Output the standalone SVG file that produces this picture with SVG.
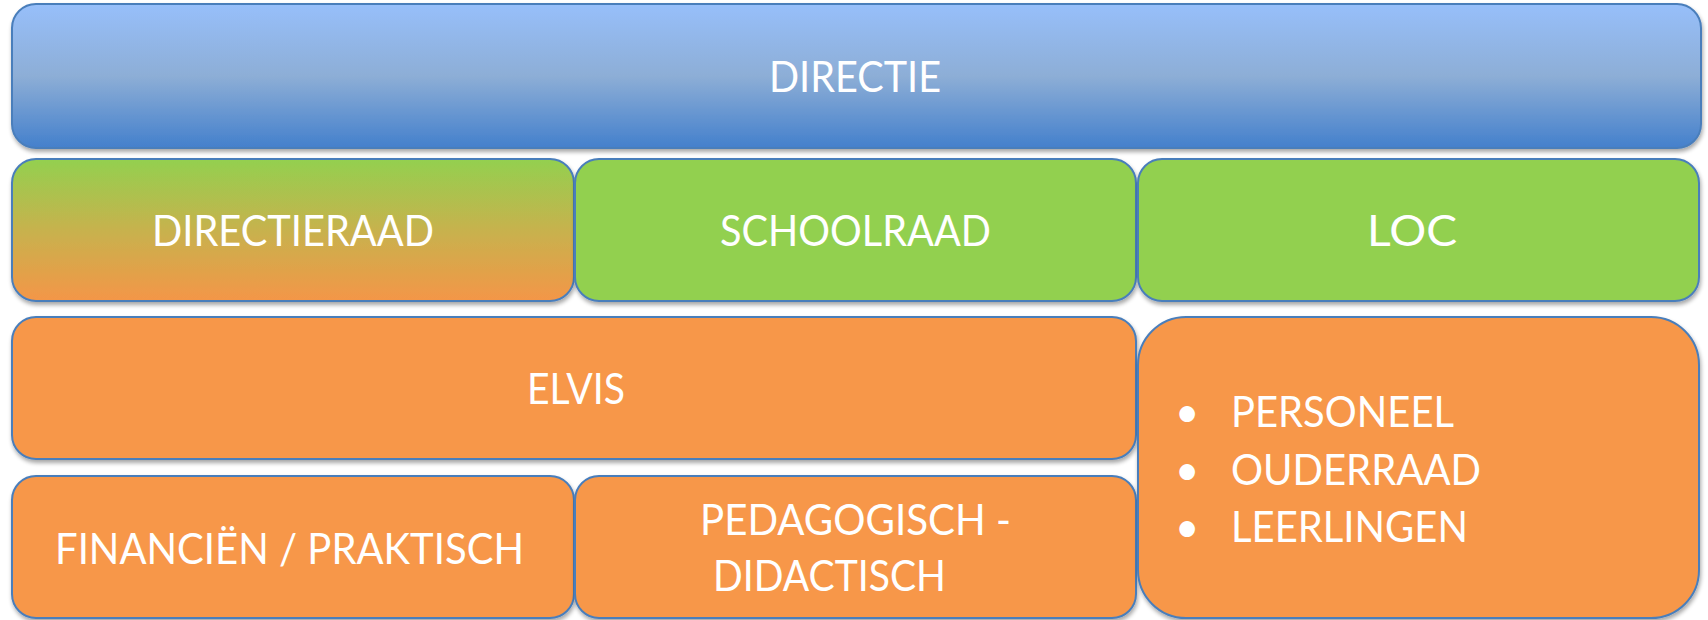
<svg xmlns="http://www.w3.org/2000/svg" width="1708" height="620" viewBox="0 0 1708 620">
<defs>
<linearGradient id="gBlue" x1="0" y1="0" x2="0" y2="1">
<stop offset="0" stop-color="#97BFFA"/>
<stop offset="0.5" stop-color="#8DAED6"/>
<stop offset="1" stop-color="#4480CC"/>
</linearGradient>
<linearGradient id="gMix" x1="0" y1="0" x2="0" y2="1">
<stop offset="0" stop-color="#93D04F"/>
<stop offset="0.5" stop-color="#C7B24E"/>
<stop offset="1" stop-color="#F49647"/>
</linearGradient>
<filter id="sh" x="-5%" y="-10%" width="110%" height="130%">
<feGaussianBlur in="SourceAlpha" stdDeviation="2"/>
<feOffset dx="1" dy="3" result="b"/>
<feComponentTransfer><feFuncA type="linear" slope="0.35"/></feComponentTransfer>
<feMerge><feMergeNode/><feMergeNode in="SourceGraphic"/></feMerge>
</filter>
</defs>
<style>
.box{stroke:#4A7EBB;stroke-width:2;filter:url(#sh)}
.green{fill:#92D050}
.orange{fill:#F79748}
.t{font-family:Lato,"Open Sans","Liberation Sans",sans-serif;font-size:42px;fill:#FFFFFF}
</style>
<rect width="1708" height="620" fill="#FFFFFF"/>
<g id="directie">
<rect class="box" x="12" y="4" width="1689" height="144" rx="24" fill="url(#gBlue)"/>
<text class="t" x="769" y="92" textLength="172" lengthAdjust="spacingAndGlyphs">DIRECTIE</text>
</g>
<g id="directieraad">
<rect class="box" x="12" y="159" width="562" height="142" rx="24" fill="url(#gMix)"/>
<text class="t" x="152" y="246" textLength="282" lengthAdjust="spacingAndGlyphs">DIRECTIERAAD</text>
</g>
<g id="schoolraad">
<rect class="box green" x="575" y="159" width="561" height="142" rx="24"/>
<text class="t" x="720" y="246" textLength="271" lengthAdjust="spacingAndGlyphs">SCHOOLRAAD</text>
</g>
<g id="loc">
<rect class="box green" x="1138" y="159" width="561" height="142" rx="24"/>
<text class="t" x="1367" y="246" textLength="90" lengthAdjust="spacingAndGlyphs">LOC</text>
</g>
<g id="elvis">
<rect class="box orange" x="12" y="317" width="1124" height="142" rx="24"/>
<text class="t" x="527" y="404" textLength="98" lengthAdjust="spacingAndGlyphs">ELVIS</text>
</g>
<g id="financien">
<rect class="box orange" x="12" y="476" width="562" height="142" rx="24"/>
<text class="t" x="55" y="564" textLength="469" lengthAdjust="spacingAndGlyphs">FINANCIËN / PRAKTISCH</text>
</g>
<g id="pedagogisch">
<rect class="box orange" x="575" y="476" width="561" height="142" rx="24"/>
<text class="t" x="700" y="535" textLength="311" lengthAdjust="spacingAndGlyphs">PEDAGOGISCH -</text>
<text class="t" x="713" y="591" textLength="233" lengthAdjust="spacingAndGlyphs">DIDACTISCH</text>
</g>
<g id="betrokkenen">
<rect class="box orange" x="1138" y="317" width="561" height="301" rx="48"/>
<text class="t" x="1175" y="427">•</text>
<text class="t" x="1231" y="427" textLength="223" lengthAdjust="spacingAndGlyphs">PERSONEEL</text>
<text class="t" x="1175" y="485">•</text>
<text class="t" x="1231" y="485" textLength="250" lengthAdjust="spacingAndGlyphs">OUDERRAAD</text>
<text class="t" x="1175" y="542">•</text>
<text class="t" x="1231" y="542" textLength="237" lengthAdjust="spacingAndGlyphs">LEERLINGEN</text>
</g>
</svg>
